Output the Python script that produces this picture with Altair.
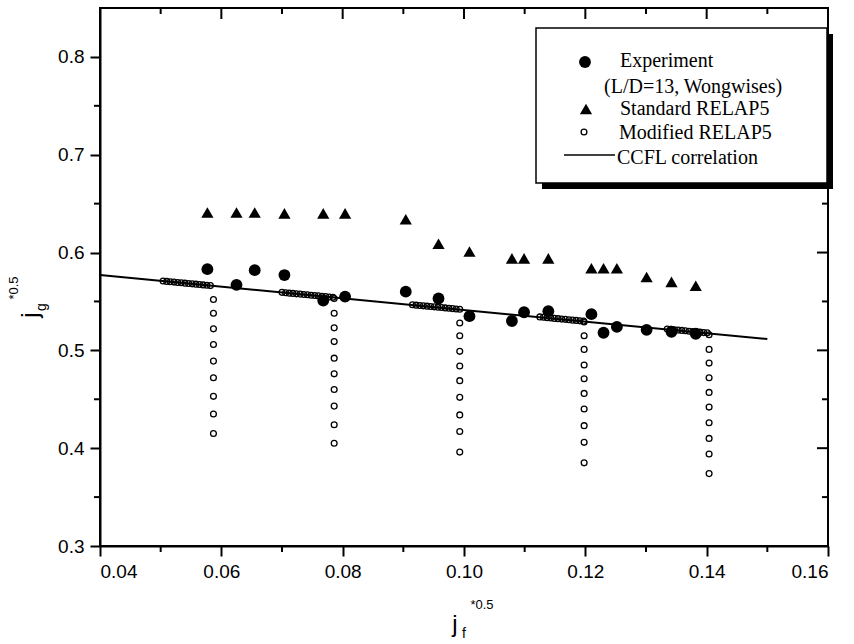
import altair as alt
import pandas as pd

# ---------------- data ----------------
exp_x = [0.0577, 0.0625, 0.0655, 0.0704, 0.0768, 0.0804, 0.0904, 0.0958, 0.1009,
         0.1079, 0.1099, 0.1139, 0.1210, 0.1230, 0.1252, 0.1301, 0.1342, 0.1382]
exp_y = [0.583, 0.567, 0.582, 0.577, 0.551, 0.555, 0.560, 0.553, 0.535,
         0.530, 0.539, 0.540, 0.537, 0.518, 0.524, 0.521, 0.519, 0.517]

std_x = [0.0577, 0.0625, 0.0655, 0.0704, 0.0768, 0.0804, 0.0904, 0.0958, 0.1009,
         0.1079, 0.1099, 0.1139, 0.1210, 0.1230, 0.1252, 0.1301, 0.1342, 0.1382]
std_y = [0.641, 0.641, 0.641, 0.640, 0.640, 0.640, 0.634, 0.609, 0.601,
         0.594, 0.594, 0.594, 0.584, 0.584, 0.584, 0.575, 0.570, 0.566]

# Modified RELAP5: dense runs along the correlation line, then vertical columns
mod1_x = [0.0504, 0.0510, 0.0516, 0.0522, 0.0528, 0.0534, 0.0540, 0.0546, 0.0552, 0.0558, 0.0564, 0.0570, 0.0576, 0.0582,
          0.0587, 0.0587, 0.0587, 0.0587, 0.0587, 0.0587, 0.0587, 0.0587, 0.0587]
mod1_y = [0.5709, 0.5705, 0.5702, 0.5698, 0.5694, 0.5691, 0.5687, 0.5684, 0.5680, 0.5677, 0.5673, 0.5669, 0.5666, 0.5662,
          0.552, 0.538, 0.522, 0.506, 0.489, 0.472, 0.453, 0.435, 0.415]
mod2_x = [0.0700, 0.0706, 0.0712, 0.0718, 0.0724, 0.0730, 0.0736, 0.0742, 0.0748, 0.0754, 0.0760, 0.0766, 0.0772, 0.0778, 0.0784,
          0.0786, 0.0786, 0.0786, 0.0786, 0.0786, 0.0786, 0.0786, 0.0786, 0.0786, 0.0786]
mod2_y = [0.5593, 0.5589, 0.5585, 0.5582, 0.5578, 0.5575, 0.5571, 0.5568, 0.5564, 0.5561, 0.5557, 0.5553, 0.5550, 0.5546, 0.5543,
          0.553, 0.538, 0.523, 0.509, 0.492, 0.476, 0.460, 0.443, 0.424, 0.405]
mod3_x = [0.0915, 0.0921, 0.0927, 0.0933, 0.0939, 0.0945, 0.0951, 0.0957, 0.0963, 0.0969, 0.0975, 0.0981, 0.0987, 0.0993,
          0.0993, 0.0993, 0.0993, 0.0993, 0.0993, 0.0993, 0.0993, 0.0993, 0.0993]
mod3_y = [0.5466, 0.5462, 0.5459, 0.5455, 0.5452, 0.5448, 0.5445, 0.5441, 0.5438, 0.5434, 0.5430, 0.5427, 0.5423, 0.5420,
          0.528, 0.515, 0.499, 0.484, 0.469, 0.452, 0.434, 0.417, 0.396]
mod4_x = [0.1125, 0.1131, 0.1137, 0.1143, 0.1149, 0.1155, 0.1161, 0.1167, 0.1173, 0.1179, 0.1185, 0.1191, 0.1197,
          0.1198, 0.1198, 0.1198, 0.1198, 0.1198, 0.1198, 0.1198, 0.1198, 0.1198, 0.1198]
mod4_y = [0.5342, 0.5338, 0.5334, 0.5331, 0.5327, 0.5324, 0.5320, 0.5317, 0.5313, 0.5309, 0.5306, 0.5302, 0.5299,
          0.529, 0.515, 0.501, 0.485, 0.471, 0.456, 0.440, 0.423, 0.406, 0.385]
mod5_x = [0.1335, 0.1341, 0.1347, 0.1353, 0.1359, 0.1365, 0.1371, 0.1377, 0.1383, 0.1389, 0.1395, 0.1401,
          0.1404, 0.1404, 0.1404, 0.1404, 0.1404, 0.1404, 0.1404, 0.1404, 0.1404, 0.1404]
mod5_y = [0.5218, 0.5214, 0.5211, 0.5207, 0.5204, 0.5200, 0.5196, 0.5193, 0.5189, 0.5186, 0.5182, 0.5179,
          0.516, 0.501, 0.487, 0.472, 0.457, 0.442, 0.426, 0.410, 0.394, 0.374]

ccfl_x = [0.040, 0.150]
ccfl_y = [0.577, 0.5115]

x_major = [0.04, 0.06, 0.08, 0.10, 0.12, 0.14, 0.16]
x_minor = [0.05, 0.07, 0.09, 0.11, 0.13, 0.15]
y_major = [0.3, 0.4, 0.5, 0.6, 0.7, 0.8]
y_minor = [0.35, 0.45, 0.55, 0.65, 0.75]

legend_labels = ["Experiment", "(L/D=13, Wongwises)", "Standard RELAP5", "Modified RELAP5", "CCFL correlation"]

# ---------------- build ----------------
W, H = 728, 538
xs = alt.Scale(domain=[0.04, 0.16], nice=False, zero=False)
ys = alt.Scale(domain=[0.3, 0.85], nice=False, zero=False)

df_exp = pd.DataFrame({"x": exp_x, "y": exp_y})
df_std = pd.DataFrame({"x": std_x, "y": std_y})
df_mod = pd.DataFrame({"x": mod1_x + mod2_x + mod3_x + mod4_x + mod5_x,
                       "y": mod1_y + mod2_y + mod3_y + mod4_y + mod5_y})
df_line = pd.DataFrame({"x": ccfl_x, "y": ccfl_y})

xaxis = alt.Axis(values=x_major, format=".2f", title=None)
yaxis = alt.Axis(values=y_major, format=".1f", title=None)
X = alt.X("x:Q", scale=xs, axis=xaxis)
Y = alt.Y("y:Q", scale=ys, axis=yaxis)

line = alt.Chart(df_line).mark_line(color="black", strokeWidth=2).encode(x=X, y=Y)
mod = alt.Chart(df_mod).mark_point(shape="circle", filled=False, size=34, color="black",
                                   strokeWidth=1.3, opacity=1).encode(x=X, y=Y)
exp = alt.Chart(df_exp).mark_point(shape="circle", filled=True, size=140, color="black",
                                   opacity=1).encode(x=X, y=Y)
std = alt.Chart(df_std).mark_point(shape="triangle-up", filled=True, size=150, color="black",
                                   opacity=1).encode(x=X, y=Y)

# extra ticks (minor, top and right)
dxm = pd.DataFrame({"x": x_major})
dxn = pd.DataFrame({"x": x_minor})
dym = pd.DataFrame({"y": y_major})
dyn = pd.DataFrame({"y": y_minor})
tk = dict(color="black", strokeWidth=2)
ticks = [
    alt.Chart(dxn).mark_rule(**tk).encode(x=X, y=alt.value(H), y2=alt.value(H + 6)),
    alt.Chart(dyn).mark_rule(**tk).encode(y=Y, x=alt.value(0), x2=alt.value(-6)),
    alt.Chart(dxm).mark_rule(**tk).encode(x=X, y=alt.value(0), y2=alt.value(11)),
    alt.Chart(dxn).mark_rule(**tk).encode(x=X, y=alt.value(0), y2=alt.value(6)),
    alt.Chart(dym).mark_rule(**tk).encode(y=Y, x=alt.value(W), x2=alt.value(W - 11)),
    alt.Chart(dyn).mark_rule(**tk).encode(y=Y, x=alt.value(W), x2=alt.value(W - 6)),
]

# legend box
one = pd.DataFrame({"a": [0]})
shadow = alt.Chart(one).mark_rect(color="black").encode(
    x=alt.value(442), x2=alt.value(733), y=alt.value(26), y2=alt.value(181))
box = alt.Chart(one).mark_rect(fill="white", stroke="black", strokeWidth=1.5).encode(
    x=alt.value(436), x2=alt.value(727), y=alt.value(20), y2=alt.value(175))
lg_exp = alt.Chart(one).mark_point(shape="circle", filled=True, size=140, color="black", opacity=1).encode(
    x=alt.value(485), y=alt.value(54))
lg_std = alt.Chart(one).mark_point(shape="triangle-up", filled=True, size=150, color="black", opacity=1).encode(
    x=alt.value(486), y=alt.value(101))
lg_mod = alt.Chart(one).mark_point(shape="circle", filled=False, size=34, color="black", strokeWidth=1.3,
                                   opacity=1).encode(x=alt.value(484), y=alt.value(124))
lg_line = alt.Chart(one).mark_rule(color="black", strokeWidth=1.5).encode(
    x=alt.value(464), x2=alt.value(515), y=alt.value(147))
tx = dict(font="Liberation Serif", fontSize=20, color="black", align="left", baseline="middle")
lg_texts = [
    alt.Chart(one).mark_text(**tx).encode(x=alt.value(520), y=alt.value(53), text=alt.value(legend_labels[0])),
    alt.Chart(one).mark_text(**tx).encode(x=alt.value(504), y=alt.value(79), text=alt.value(legend_labels[1])),
    alt.Chart(one).mark_text(**tx).encode(x=alt.value(520), y=alt.value(101), text=alt.value(legend_labels[2])),
    alt.Chart(one).mark_text(**tx).encode(x=alt.value(519), y=alt.value(125), text=alt.value(legend_labels[3])),
    alt.Chart(one).mark_text(**tx).encode(x=alt.value(517), y=alt.value(150), text=alt.value(legend_labels[4])),
]

# axis titles with sub/superscripts
af = dict(font="Liberation Sans", color="black", align="center", baseline="middle")
titles = [
    alt.Chart(one).mark_text(fontSize=24, **af).encode(x=alt.value(355), y=alt.value(617), text=alt.value("j")),
    alt.Chart(one).mark_text(fontSize=14, **af).encode(x=alt.value(364), y=alt.value(626), text=alt.value("f")),
    alt.Chart(one).mark_text(fontSize=13, **af).encode(x=alt.value(382), y=alt.value(597), text=alt.value("*0.5")),
    alt.Chart(one).mark_text(fontSize=24, angle=270, **af).encode(x=alt.value(-69), y=alt.value(307), text=alt.value("j")),
    alt.Chart(one).mark_text(fontSize=14, angle=270, **af).encode(x=alt.value(-58), y=alt.value(299), text=alt.value("g")),
    alt.Chart(one).mark_text(fontSize=13, angle=270, **af).encode(x=alt.value(-86), y=alt.value(280), text=alt.value("*0.5")),
]

chart = alt.layer(
    line, mod, exp, std, *ticks, shadow, box, lg_exp, lg_std, lg_mod, lg_line, *lg_texts, *titles
).properties(
    width=W, height=H,
    padding={"left": 100, "top": 8, "right": 26, "bottom": 98},
    autosize=alt.AutoSizeParams(type="none"),
    background="white",
).configure_view(
    stroke="black", strokeWidth=2
).configure_axis(
    labelFont="Liberation Sans", labelFontSize=19, labelColor="black",
    tickColor="black", tickWidth=2, tickSize=10,
    domainColor="black", domainWidth=2, grid=False, labelPadding=6,
)

chart.save("out.html", embed_options={"renderer": "svg", "actions": False})
